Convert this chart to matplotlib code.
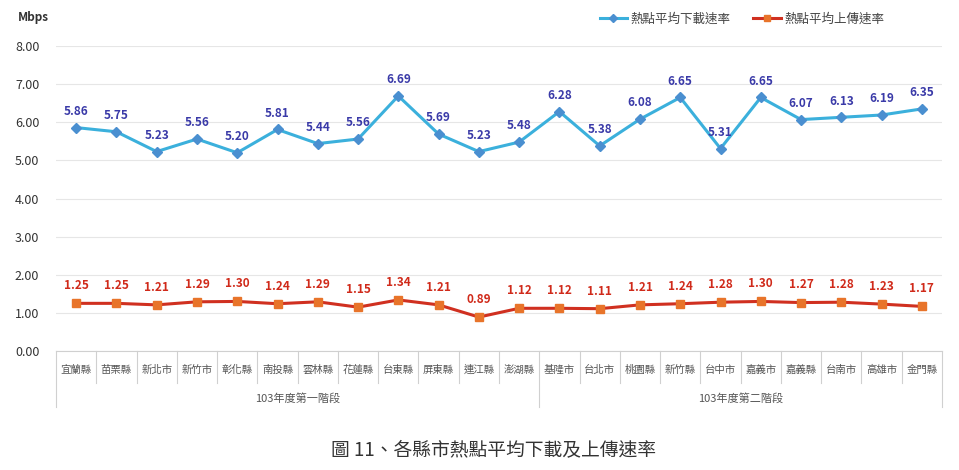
import matplotlib
matplotlib.use("Agg")
import matplotlib.pyplot as plt
from matplotlib.lines import Line2D

plt.rcParams['font.family'] = ['Noto Sans CJK TC', 'DejaVu Sans']

categories = ["宜蘭縣", "苗栗縣", "新北市", "新竹市", "彰化縣", "南投縣", "雲林縣", "花蓮縣",
              "台東縣", "屏東縣", "連江縣", "澎湖縣",
              "基隆市", "台北市", "桃園縣", "新竹縣", "台中市", "嘉義市", "嘉義縣", "台南市",
              "高雄市", "金門縣"]
groups = ["103年度第一階段", "103年度第二階段"]
group_sizes = [12, 10]
download = [5.86, 5.75, 5.23, 5.56, 5.20, 5.81, 5.44, 5.56, 6.69, 5.69, 5.23, 5.48,
            6.28, 5.38, 6.08, 6.65, 5.31, 6.65, 6.07, 6.13, 6.19, 6.35]
upload = [1.25, 1.25, 1.21, 1.29, 1.30, 1.24, 1.29, 1.15, 1.34, 1.21, 0.89, 1.12,
          1.12, 1.11, 1.21, 1.24, 1.28, 1.30, 1.27, 1.28, 1.23, 1.17]
yticks = [0, 1, 2, 3, 4, 5, 6, 7, 8]
series_names = ["熱點平均下載速率", "熱點平均上傳速率"]

fig = plt.figure(figsize=(9.59, 4.70), dpi=100)
ax = fig.add_axes([56/959, 1-351/470, (942-56)/959, (351-46)/470])

n = len(categories)
x = list(range(n))
dl_line = '#3bb0dc'
dl_mark = '#4a8fd0'
ul_line = '#d03020'
ul_mark = '#e8742a'

ax.plot(x, download, color=dl_line, lw=2.2, marker='D', ms=5.5,
        mfc=dl_mark, mec=dl_mark, zorder=3)
ax.plot(x, upload, color=ul_line, lw=2.2, marker='s', ms=6,
        mfc=ul_mark, mec=ul_mark, zorder=3)

for xi, v in zip(x, download):
    ax.annotate(f"{v:.2f}", (xi, v), xytext=(0, 7), textcoords='offset points',
                ha='center', va='bottom', fontsize=8.5, color='#3a3aa8', fontweight='semibold')
for xi, v in zip(x, upload):
    ax.annotate(f"{v:.2f}", (xi, v), xytext=(0, 8), textcoords='offset points',
                ha='center', va='bottom', fontsize=8.5, color='#d02a1a', fontweight='semibold')

ax.set_xlim(-0.5, n - 0.5)
ax.set_ylim(0, 8)
ax.set_yticks(yticks)
ax.set_yticklabels([f"{t:.2f}" for t in yticks], fontsize=9, color='#333333')
ax.yaxis.grid(True, color='#e6e6e6', lw=0.8)
ax.set_axisbelow(True)
ax.tick_params(axis='y', length=0, pad=12)
ax.set_xticks([])
for s in ['top', 'right', 'left']:
    ax.spines[s].set_visible(False)
ax.spines['bottom'].set_color('#d0d0d0')

trans = ax.get_xaxis_transform()
# category labels
for xi, c in zip(x, categories):
    ax.text(xi, -0.062, c, transform=trans, ha='center', va='center', fontsize=7.5, color='#555555')
# separators
def ay(py):
    return (351 - py) / (351 - 46)
bounds = [i - 0.5 for i in range(n + 1)]
group_edges = [-0.5]
acc = -0.5
for g in group_sizes:
    acc += g
    group_edges.append(acc)
for b in bounds:
    bottom = ay(407) if b in group_edges else ay(383)
    ax.plot([b, b], [0, bottom], transform=trans, color='#d0d0d0', lw=0.8, clip_on=False)
# group labels
start = -0.5
for g, sz in zip(groups, group_sizes):
    ax.text(start + sz / 2, ay(398), g, transform=trans, ha='center', va='center',
            fontsize=8, color='#555555')
    start += sz

fig.text(18/959, 1-17/470, "Mbps", ha='left', va='center', fontsize=8.5,
         fontweight='bold', color='#333333')

handles = [Line2D([], [], color=dl_line, lw=2.2, marker='D', ms=4.5, mfc=dl_mark, mec=dl_mark),
           Line2D([], [], color=ul_line, lw=2.2, marker='s', ms=5, mfc=ul_mark, mec=ul_mark)]
fig.legend(handles, series_names, loc='center', bbox_to_anchor=(742/959, 1-19/470), ncol=2,
           frameon=False, fontsize=9, handlelength=2.2, columnspacing=1.8,
           handletextpad=0.3, labelcolor='#444444')

fig.text(0.515, 1-450/470, "圖 11、各縣市熱點平均下載及上傳速率", ha='center', va='center',
         fontsize=13.5, color='#333333')

fig.savefig("out.png", dpi=100)
